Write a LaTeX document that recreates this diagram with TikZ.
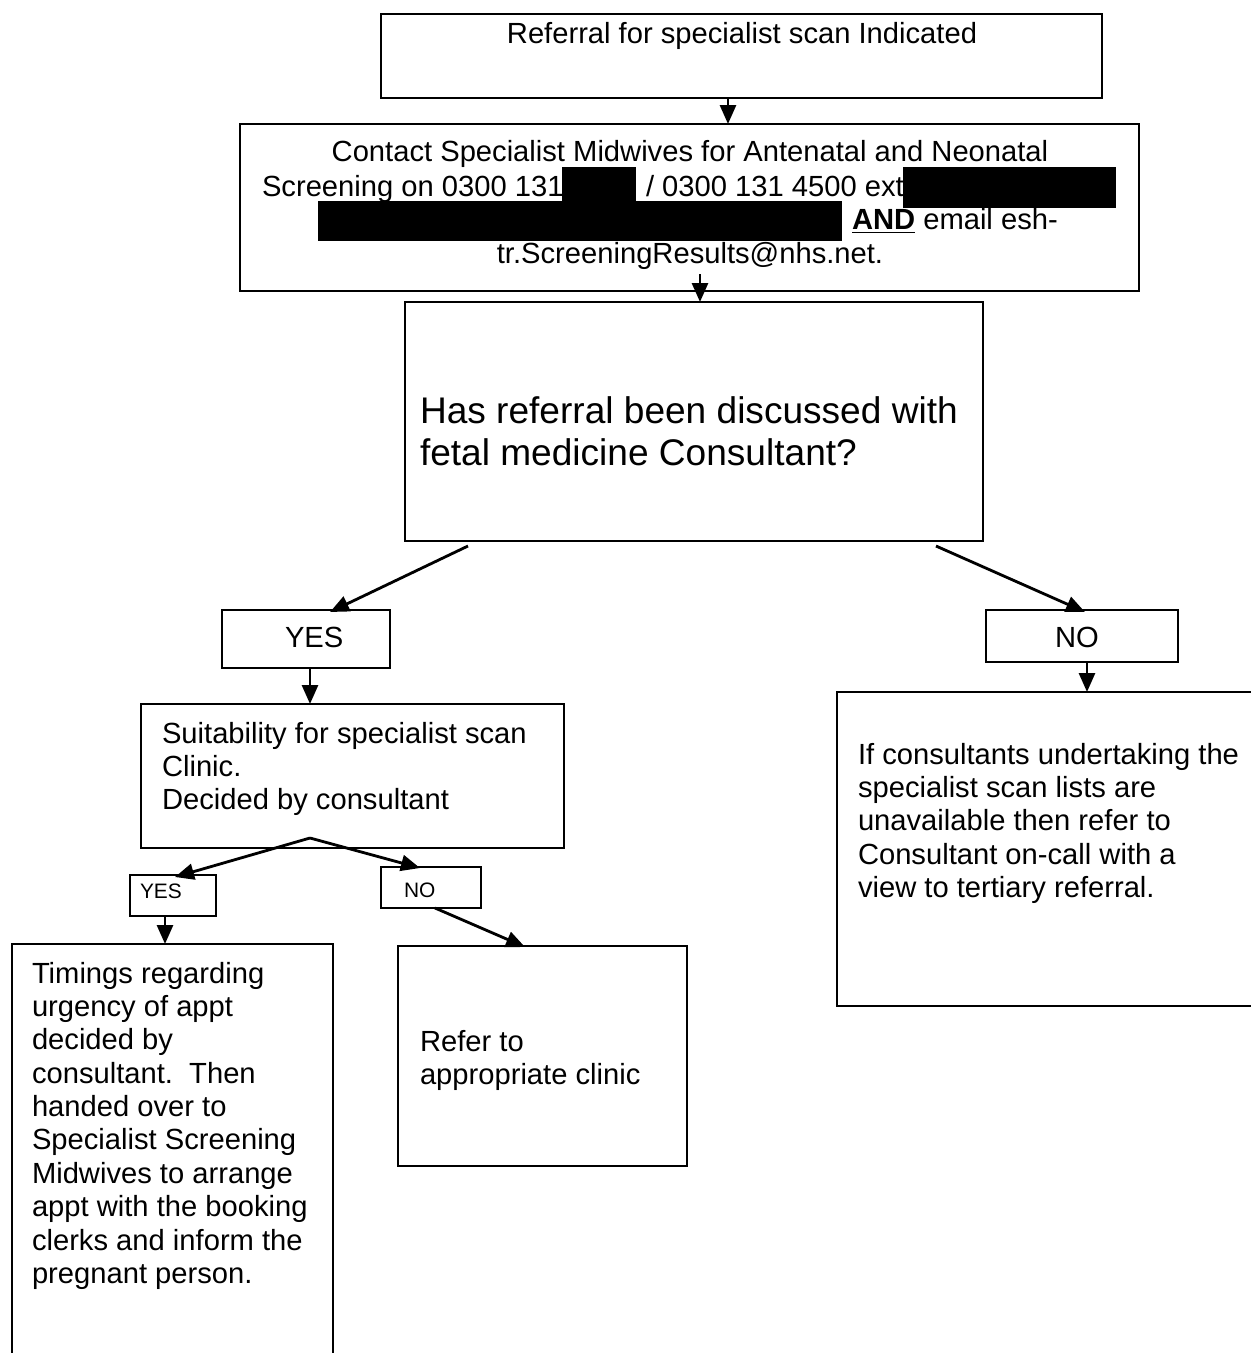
\documentclass[tikz,border=0pt]{standalone}
\usepackage{fontspec}
\setmainfont{Liberation Sans}
\usetikzlibrary{arrows.meta,calc}
\begin{document}
\begin{tikzpicture}[x=0.02cm,y=-0.02cm,
  every node/.style={inner sep=0pt, outer sep=0pt},
  flowbox/.style 2 args={draw, line width=1.6pt, minimum width=#1*0.02cm, minimum height=#2*0.02cm},
  link/.style={-{Triangle[length=0.38cm,width=0.32cm]}, line width=1.6pt},
  txtmain/.style={font=\fontsize{16.6pt}{19pt}\selectfont},
  txtbig/.style={font=\fontsize{21.1pt}{24.1pt}\selectfont},
  txtsmall/.style={font=\fontsize{11.9pt}{14pt}\selectfont}
]
% page
\fill[white] (0,0) rectangle (1251,1353);
\useasboundingbox (0,0) rectangle (1251,1353);
\clip (0,0) rectangle (1251,1353);

% boxes
\node[flowbox={721}{84}]  (box1)   at (741.5,56) {};
\node[flowbox={899}{167}] (box2)   at (689.5,207.5) {};
\node[flowbox={578}{239}] (box3)   at (694,421.5) {};
\node[flowbox={168}{58}]  (yesA)   at (306,639) {};
\node[flowbox={192}{52}]  (noA)    at (1082,636) {};
\node[flowbox={423}{144}] (suit)   at (352.5,776) {};
\node[flowbox={86}{41}]   (yesB)   at (173,895.5) {};
\node[flowbox={100}{41}]  (noB)    at (431,887.5) {};
\node[flowbox={321}{456}] (timing) at (172.5,1172) {};
\node[flowbox={289}{220}] (refer)  at (542.5,1056) {};
\node[flowbox={433}{314}] (avail)  at (1053.5,849) {};

% texts
\node[txtmain, anchor=base] (t1) at (742,43) {Referral for specialist scan Indicated};

\node[txtmain, anchor=base] (t2a) at (690,161.5) {Contact Specialist Midwives for Antenatal and Neonatal};
\node[txtmain, anchor=base west] (t2b) at (262,196) {Screening on 0300 131};
\node[txtmain, anchor=base west] (t2c) at (646,196) {/ 0300 131 4500 ext};
\node[txtmain, anchor=base west] (t2d) at (852,229.5) {\underline{\textbf{AND}} email esh-};
\node[txtmain, anchor=base] (t2e) at (690,263) {tr.ScreeningResults@nhs.net.};
% redacted parts
\fill[black] (562,167) rectangle (636,205);
\fill[black] (903,167) rectangle (1116,208);
\fill[black] (318,201) rectangle (842,241);

\node[txtbig, anchor=base west] (t3) at (420,423)
  {\begin{tabular}[t]{@{}l@{}}Has referral been discussed with\\fetal medicine Consultant?\end{tabular}};

\node[txtmain, anchor=base west] (tyesA) at (285,647.5) {YES};
\node[txtmain, anchor=base west] (tnoA) at (1055,647.5) {NO};

\node[txtmain, anchor=base west] (tsuit) at (162,743)
  {\begin{tabular}[t]{@{}l@{}}Suitability for specialist scan\\Clinic.\\Decided by consultant\end{tabular}};

\node[txtsmall, anchor=base west] (tyesB) at (140,898) {YES};
\node[txtsmall, anchor=base west] (tnoB) at (404,897) {NO};

\node[txtmain, anchor=base west] (ttiming) at (32,983)
  {\begin{tabular}[t]{@{}l@{}}Timings regarding\\urgency of appt\\decided by\\consultant.\ \ Then\\handed over to\\Specialist Screening\\Midwives to arrange\\appt with the booking\\clerks and inform the\\pregnant person.\end{tabular}};

\node[txtmain, anchor=base west] (trefer) at (420,1051)
  {\begin{tabular}[t]{@{}l@{}}Refer to\\appropriate clinic\end{tabular}};

\node[txtmain, anchor=base west] (tavail) at (858,764)
  {\begin{tabular}[t]{@{}l@{}}If consultants undertaking the\\specialist scan lists are\\unavailable then refer to\\Consultant on-call with a\\view to tertiary referral.\end{tabular}};

% connectors
\draw[link] ($(box1.south west)+(347,0)$) -- ($(box2.north west)+(488,0)$);
\draw[link] ($(box2.south west)+(460,-17)$) -- ($(box3.north west)+(295,0)$);
\draw[link] ($(box3.south west)+(63,5)$) -- ($(yesA.north west)+(108,2)$);
\draw[link] ($(box3.south west)+(531,5)$) -- ($(noA.north west)+(99,2)$);
\draw[link] ($(yesA.south west)+(88,0)$) -- ($(suit.north west)+(169,0)$);
\coordinate (fork) at ($(suit.south west)+(169,-10)$);
\draw[link] (fork) -- ($(yesB.north west)+(45,2)$);
\draw[link] (fork) -- ($(noB.north west)+(39,1)$);
\draw[link] ($(yesB.south west)+(35,0)$) -- ($(timing.north west)+(153,0)$);
\draw[link] ($(noB.south west)+(54,0)$) -- ($(refer.north west)+(127,1)$);
\draw[link] ($(noA.south west)+(101,0)$) -- ($(avail.north west)+(250,0)$);
\end{tikzpicture}
\end{document}
